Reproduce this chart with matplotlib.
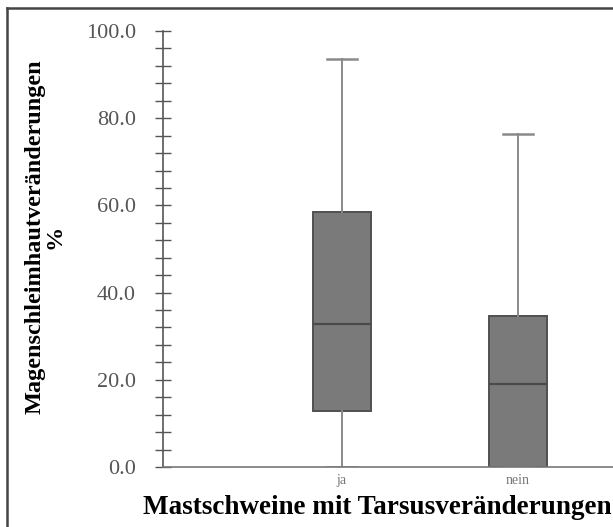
import matplotlib
matplotlib.use("Agg")
import matplotlib.pyplot as plt
from matplotlib.lines import Line2D

categories = ["ja", "nein"]
q1 = [12.9, 0.0]
medians = [32.9, 19.1]
q3 = [58.6, 34.7]
whislo = [0.0, 0.0]
whishi = [93.6, 76.3]
yticks = [0.0, 20.0, 40.0, 60.0, 80.0, 100.0]

plt.rcParams['font.family'] = ['Liberation Serif', 'DejaVu Serif']

fig = plt.figure(figsize=(6.13, 5.27), dpi=100)
W, H = 613, 527
ax = fig.add_axes([163 / W, 1 - 467 / H, 1 - 163 / W, (467 - 31) / H])

stats = []
for i, c in enumerate(categories):
    stats.append(dict(label=c, q1=q1[i], med=medians[i], q3=q3[i],
                      whislo=whislo[i], whishi=whishi[i], fliers=[]))

ax.bxp(stats, positions=[1, 2], widths=0.33, showfliers=False, patch_artist=True,
       boxprops=dict(facecolor="#7a7a7a", edgecolor="#505050", linewidth=1.4),
       medianprops=dict(color="#4a4a4a", linewidth=1.6),
       whiskerprops=dict(color="#8a8a8a", linewidth=1.4),
       capprops=dict(color="#8a8a8a", linewidth=1.8),
       capwidths=0.175)

ax.set_xlim(1 - (342 - 163) / 176, 1 + (613 - 342) / 176)
ax.set_ylim(0, 100)

for s in ["top", "right"]:
    ax.spines[s].set_visible(False)
ax.spines["left"].set_color("#555555")
ax.spines["bottom"].set_color("#777777")
ax.spines["left"].set_linewidth(1.2)
ax.spines["bottom"].set_linewidth(1.2)

ax.set_yticks(yticks)
ax.set_yticklabels([f"{v:.1f}" for v in yticks])
ax.set_yticks([v for v in range(0, 101, 4)], minor=True)
ax.tick_params(axis="y", which="both", direction="inout", length=11, width=1.0,
               color="#555555", labelsize=16, labelcolor="#555555", pad=14)
ax.tick_params(axis="x", length=0, labelsize=10, labelcolor="#777777", pad=5)

ax.set_xlabel("Mastschweine mit Tarsusveränderungen", fontsize=19.5,
              fontweight="bold")
ax.xaxis.set_label_coords((377 - 163) / 450, -(495 - 467) / 436)
ax.set_ylabel("Magenschleimhautveränderungen\n%", fontsize=17.5,
              fontweight="bold", linespacing=0.95)
ax.yaxis.set_label_coords((66 - 163) / 450, (467 - 237) / 436)

# frame border (left and top)
fig.add_artist(Line2D([7 / W, 7 / W], [0, 1 - 8 / H], transform=fig.transFigure,
                      color="#444444", linewidth=1.8))
fig.add_artist(Line2D([7 / W, 1], [1 - 8 / H, 1 - 8 / H], transform=fig.transFigure,
                      color="#444444", linewidth=1.8))

fig.savefig("out.png", dpi=100)
